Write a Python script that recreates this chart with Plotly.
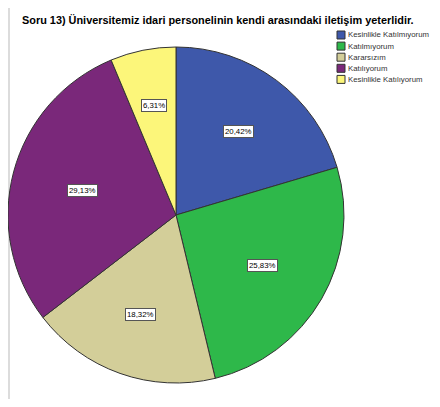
import math
import plotly.graph_objects as go

# ---- data ----
title_text = "Soru 13) Üniversitemiz idari personelinin kendi arasındaki iletişim yeterlidir."
categories = ["Kesinlikle Katılmıyorum", "Katılmıyorum", "Kararsızım",
              "Katılıyorum", "Kesinlikle Katılıyorum"]
percents = [20.42, 25.83, 18.32, 29.13, 6.31]
colors = ["#3E58AA", "#2EB84A", "#D3CE99", "#7A287A", "#FCF67A"]

# The page body has an 8px margin, so the figure is laid out in screen pixels
# minus that offset and sized to fit inside the window.
OFF = 8
W, H = 440 - 2 * OFF, 407 - 2 * OFF


def px(sx):
    return (sx - OFF) / W


def py(sy):
    return 1 - (sy - OFF) / H


cx_s, cy_s, r_px = 176, 215, 168
font_main = "Liberation Sans, Arial, sans-serif"

fig = go.Figure()
fig.add_trace(go.Pie(
    labels=categories,
    values=percents,
    marker=dict(colors=colors, line=dict(color="#333333", width=1)),
    sort=False,
    direction="clockwise",
    rotation=0,
    textinfo="none",
    hoverinfo="label+percent",
    domain=dict(x=[px(cx_s - r_px), px(cx_s + r_px)],
                y=[py(cy_s + r_px), py(cy_s - r_px)]),
    showlegend=False,
))

annotations = []
shapes = []

# left grey border strip of the frame
shapes.append(dict(type="rect", xref="paper", yref="paper",
                   x0=0, x1=px(10), y0=0, y1=1,
                   fillcolor="#DCDCDC", line=dict(width=0), layer="below"))

# boxed percentage labels placed at each slice's centroid
total = sum(percents)
cum = 0.0
for p in percents:
    frac = p / total
    mid = (cum + frac / 2) * 2 * math.pi
    half = frac * math.pi
    rc = (2.0 / 3.0) * math.sin(half) / half
    cum += frac
    sx = cx_s + rc * r_px * math.sin(mid)
    sy = cy_s - rc * r_px * math.cos(mid)
    annotations.append(dict(
        x=px(sx), y=py(sy), xref="paper", yref="paper",
        text=f"{p:.2f}%".replace(".", ","), showarrow=False,
        font=dict(family=font_main, size=7.8, color="#000000"),
        bgcolor="white", bordercolor="#555555", borderwidth=1, borderpad=1,
        xanchor="center", yanchor="middle",
    ))

# title
annotations.append(dict(
    x=px(20), y=py(20), xref="paper", yref="paper",
    text="<b>" + title_text + "</b>", showarrow=False,
    font=dict(family=font_main, size=10.9, color="#000000"),
    xanchor="left", yanchor="middle",
))

# legend (compact, as in the reference)
leg_x, leg_y0, leg_step, sw = 337, 35, 11.1, 8
for i, (lab, col) in enumerate(zip(categories, colors)):
    yc = leg_y0 + i * leg_step
    shapes.append(dict(type="rect", xref="paper", yref="paper",
                       x0=px(leg_x), x1=px(leg_x + sw),
                       y0=py(yc + sw / 2), y1=py(yc - sw / 2),
                       fillcolor=col, line=dict(color="#333333", width=1)))
    annotations.append(dict(
        x=px(leg_x + sw + 1), y=py(yc), xref="paper", yref="paper",
        text=lab, showarrow=False,
        font=dict(family=font_main, size=7.8, color="#333333"),
        xanchor="left", yanchor="middle",
    ))

fig.update_layout(
    width=W, height=H,
    margin=dict(l=0, r=0, t=0, b=0),
    paper_bgcolor="white",
    plot_bgcolor="rgba(0,0,0,0)",
    shapes=shapes,
    annotations=annotations,
    showlegend=False,
)

fig.write_html("out.html")
